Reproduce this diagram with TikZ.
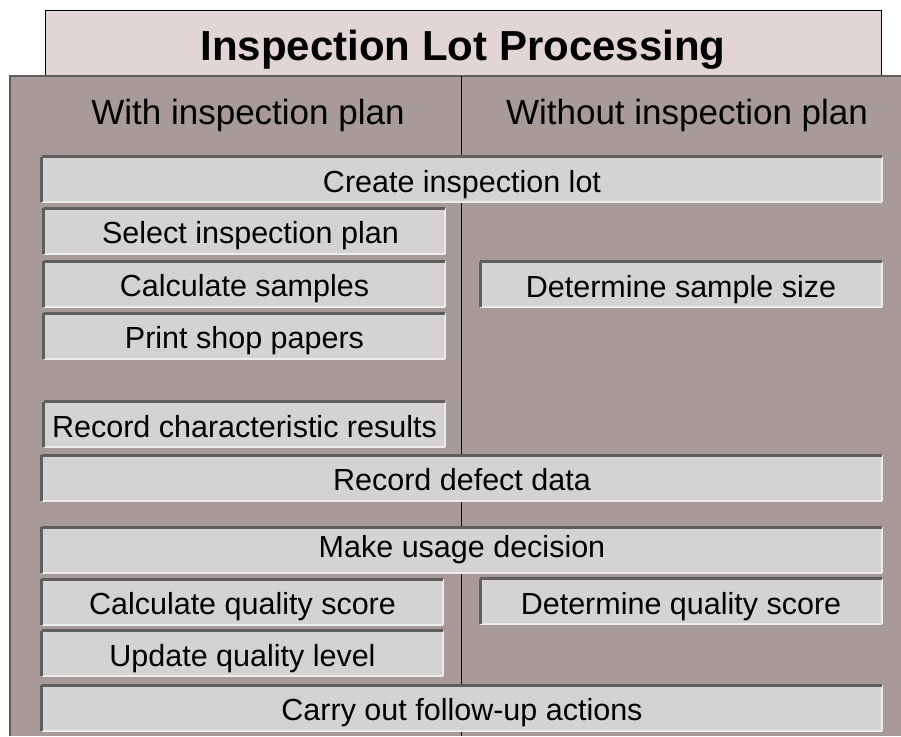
\documentclass[tikz,border=0pt]{standalone}
\usepackage{fontspec}
\setmainfont{Liberation Sans}

\definecolor{titlefill}{HTML}{E2D5D5}
\definecolor{panelfill}{HTML}{A89A99}
\definecolor{tilefill}{HTML}{D3D3D3}
\definecolor{rimdark}{HTML}{5E5E5E}
\definecolor{rimlight}{HTML}{ECECEC}

\newcommand{\px}{0.5pt}

\tikzset{
  darkrim/.style={draw=rimdark, line width=1.5pt, line cap=square},
  lightrim/.style={draw=rimlight, line width=1pt},
  tile/.style={fill=tilefill, inner sep=0pt, minimum height=45*\px,
    text height=15pt, text depth=2.5pt,
    font=\fontsize{15.25}{18}\selectfont,
    append after command={
      (\tikzlastnode.south east) edge[lightrim] (\tikzlastnode.north east)
      (\tikzlastnode.south west) edge[lightrim] (\tikzlastnode.south east)
      (\tikzlastnode.south west) edge[darkrim] (\tikzlastnode.north west)
      (\tikzlastnode.north west) edge[darkrim] (\tikzlastnode.north east)
    }},
  wide/.style={tile, minimum width=840*\px},
  half/.style={tile, minimum width=401*\px},
  colhead/.style={font=\fontsize{17.5}{21}\selectfont}
}

\begin{document}
\begin{tikzpicture}[x=\px, y=-\px]
  \useasboundingbox[fill=white] (0,0) rectangle (901,736);

  % heading tab and the panel below it
  \node[draw=black, fill=titlefill, minimum width=836*\px, minimum height=66*\px,
        text height=20pt, text depth=3pt,
        font=\fontsize{21}{25}\selectfont\bfseries] (title) at (463,43) {Inspection Lot Processing};
  \fill[panelfill] (10,76) rectangle (901,736);
  \draw[rimdark, line width=0.75pt] (10,736) -- (10,76) -- (901,76);

  % column divider
  \coordinate (divtop) at (461,76);
  \coordinate (divbot) at (461,736);
  \draw (divtop) -- (divbot);

  \node[colhead] (withplan) at (248,115) {With inspection plan};
  \node[colhead] (withoutplan) at (687,115) {Without inspection plan};

  \node[wide] (create) at (462,179.5) {Create inspection lot};
  \node[half, inner xsep=3pt] (select) at (244.5,231) {\hspace{6pt}Select inspection plan};
  \node[half] (calc) at (244.5,284) {Calculate samples};
  \node[half] (print) at (244.5,336) {Print shop papers};
  \node[half] (detsize) at (681,284.5) {Determine sample size};
  \node[half] (recchar) at (244.5,424.5) {Record characteristic results};
  \node[wide] (recdef) at (462,478) {Record defect data};

  \node[wide, text height=12pt, text depth=5pt] (usage) at (462,550) {Make usage decision};
  \node[half] (calcqs) at (242.5,602) {Calculate quality score};
  \node[half] (detqs) at (681,601.5) {Determine quality score};
  \node[half] (update) at (242.5,653.5) {Update quality level};
  \node[wide] (followup) at (462,708) {Carry out follow-up actions};
\end{tikzpicture}
\end{document}
